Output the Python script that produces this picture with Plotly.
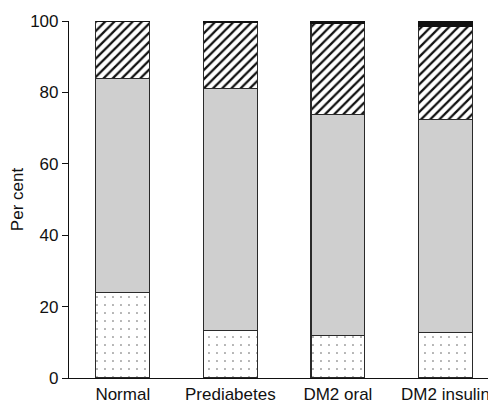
import plotly.graph_objects as go

categories = ["Normal", "Prediabetes", "DM2 oral", "DM2 insulin"]
dotted = [24.0, 13.2, 11.8, 12.7]
grey = [60.0, 67.9, 61.9, 59.6]
hatched = [16.0, 18.4, 25.6, 26.3]
black = [0.0, 0.5, 0.7, 1.4]
y_ticks = [0, 20, 40, 60, 80, 100]

font = dict(family="Liberation Sans, Arial, sans-serif", size=17, color="#111")
line = dict(color="#2a2a2a", width=1.2)

fig = go.Figure()
fig.add_trace(go.Bar(x=categories, y=dotted, width=0.5,
                     marker=dict(color="white", line=line,
                                 pattern=dict(shape=".", fgcolor="#555", bgcolor="white",
                                              size=8, solidity=0.03, fillmode="replace"))))
fig.add_trace(go.Bar(x=categories, y=grey, width=0.5,
                     marker=dict(color="#cfcfcf", line=line)))
fig.add_trace(go.Bar(x=categories, y=hatched, width=0.5,
                     marker=dict(color="white", line=line,
                                 pattern=dict(shape="/", fgcolor="#111", bgcolor="white",
                                              size=6.5, solidity=0.35, fillmode="replace"))))
fig.add_trace(go.Bar(x=categories, y=black, width=0.5,
                     marker=dict(color="#111", line=dict(color="#111", width=1.2))))

fig.update_layout(
    barmode="stack", showlegend=False,
    width=488, height=394,
    margin=dict(l=61, r=0, t=13, b=24),
    paper_bgcolor="white", plot_bgcolor="white",
    font=font,
    xaxis=dict(range=[-0.5, 3.47], showline=True, linecolor="#111", linewidth=1.2,
               ticks="", showgrid=False, zeroline=False, tickfont=font, automargin=False),
    yaxis=dict(range=[0, 100], tickvals=y_ticks, showline=True, linecolor="#111",
               linewidth=1.2, ticks="outside", ticklen=6, tickcolor="#111",
               showgrid=False, zeroline=False, tickfont=font, automargin=False,
               title=dict(text="Per cent", font=font, standoff=5)),
)
fig.write_html("out.html")
